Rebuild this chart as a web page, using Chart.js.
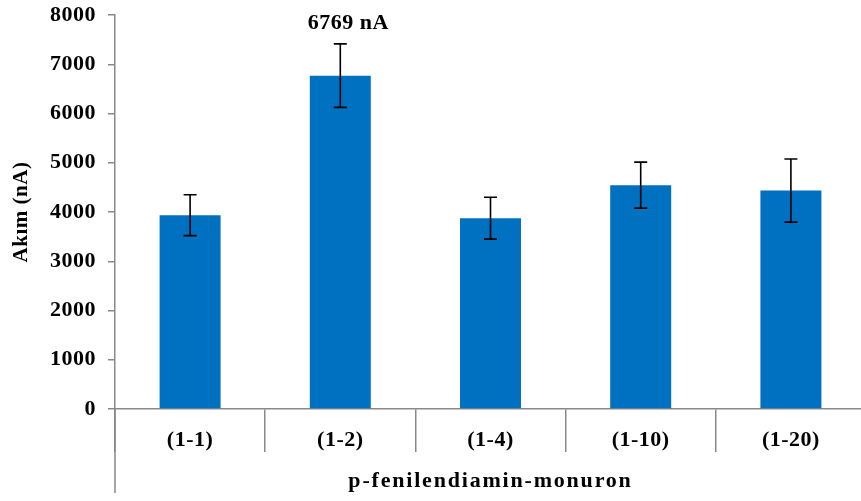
<!DOCTYPE html>
<html>
<head>
<meta charset="utf-8">
<script src="https://cdn.jsdelivr.net/npm/chart.js@4.4.0/dist/chart.umd.min.js"></script>
<style>
  html, body { margin: 0; padding: 0; background: #fff; overflow: hidden; }
  #wrap { width: 868px; height: 501px; }
</style>
</head>
<body>
<div id="wrap"><canvas id="myChart"></canvas></div>
<script>
const categories = ['(1-1)', '(1-2)', '(1-4)', '(1-10)', '(1-20)'];
const currents = [3935, 6769, 3875, 4545, 4435];
const errors = [415, 645, 425, 467, 640];
const yTicks = [0, 1000, 2000, 3000, 4000, 5000, 6000, 7000, 8000];
const groupLabel = 'p-fenilendiamin-monuron';
const yTitle = 'Akım (nA)';
const peakLabel = currents[1] + ' nA';

const serif = '"Liberation Serif", "Times New Roman", serif';
const axisGrey = '#898989';

const extras = {
    id: 'extras',
    beforeDraw(chart) {
        chart.ctx.letterSpacing = '0.5px';
    },
    afterDraw(chart) {
        const ctx = chart.ctx;
        const y = chart.scales.y;
        const area = chart.chartArea;
        const meta = chart.getDatasetMeta(0);
        ctx.save();
        // y axis line continues down past the category row
        ctx.strokeStyle = axisGrey;
        ctx.lineWidth = 1.5;
        ctx.beginPath();
        ctx.moveTo(area.left, area.bottom);
        ctx.lineTo(area.left, area.bottom + 84);
        ctx.stroke();

        // error bars
        ctx.strokeStyle = '#000';
        ctx.lineWidth = 1.6;
        meta.data.forEach((bar, i) => {
            const top = y.getPixelForValue(currents[i] + errors[i]);
            const bot = y.getPixelForValue(currents[i] - errors[i]);
            ctx.beginPath();
            ctx.moveTo(bar.x, top);
            ctx.lineTo(bar.x, bot);
            ctx.moveTo(bar.x - 6.5, top);
            ctx.lineTo(bar.x + 6.5, top);
            ctx.moveTo(bar.x - 6.5, bot);
            ctx.lineTo(bar.x + 6.5, bot);
            ctx.stroke();
        });

        // value label over the tallest bar
        ctx.fillStyle = '#000';
        ctx.font = 'bold 22px ' + serif;
        ctx.textAlign = 'center';
        ctx.textBaseline = 'middle';
        const b = meta.data[1];
        ctx.fillText(peakLabel, b.x + 8, y.getPixelForValue(currents[1] + errors[1]) - 21);

        // group label under the categories
        ctx.letterSpacing = '1.8px';
        ctx.fillText(groupLabel, (area.left + area.right) / 2, area.bottom + 72);
        ctx.restore();
    }
};

const ctx = document.getElementById('myChart').getContext('2d');
const akimChart = new Chart(ctx, {
    type: 'bar',
    data: {
        labels: categories,
        datasets: [{
            data: currents,
            backgroundColor: '#0070C0',
            borderWidth: 0,
            barPercentage: 0.406,
            categoryPercentage: 1
        }]
    },
    plugins: [extras],
    options: {
        responsive: true,
        maintainAspectRatio: false,
        animation: false,
        layout: { padding: { top: 15, right: 2, left: 0, bottom: 0 } },
        plugins: {
            legend: { display: false },
            tooltip: { enabled: false }
        },
        scales: {
            x: {
                grid: {
                    offset: true,
                    drawOnChartArea: false,
                    drawTicks: true,
                    tickLength: 43,
                    color: axisGrey,
                    lineWidth: 1.5
                },
                border: { color: axisGrey, width: 1.5 },
                ticks: {
                    color: '#000',
                    padding: -25,
                    font: { family: serif, size: 22, weight: 'bold' }
                },
                afterFit(scale) {
                    scale.height = 92;
                    scale.paddingLeft = 0;
                    scale.paddingRight = 0;
                }
            },
            y: {
                min: 0,
                max: 8000,
                afterBuildTicks(scale) { scale.ticks = yTicks.map(v => ({ value: v })); },
                grid: {
                    drawOnChartArea: false,
                    drawTicks: true,
                    tickLength: 7,
                    color: axisGrey,
                    lineWidth: 1.5
                },
                border: { color: axisGrey, width: 1.5 },
                ticks: {
                    color: '#000',
                    padding: 12,
                    callback: v => String(v),
                    font: { family: serif, size: 22, weight: 'bold' }
                },
                title: {
                    display: true,
                    text: yTitle,
                    color: '#000',
                    padding: { top: 9, bottom: 0 },
                    font: { family: serif, size: 21, weight: 'bold' }
                },
                afterFit(scale) {
                    scale.width = 115;
                    scale.paddingTop = 0;
                    scale.paddingBottom = 0;
                }
            }
        }
    }
});
</script>
</body>
</html>
